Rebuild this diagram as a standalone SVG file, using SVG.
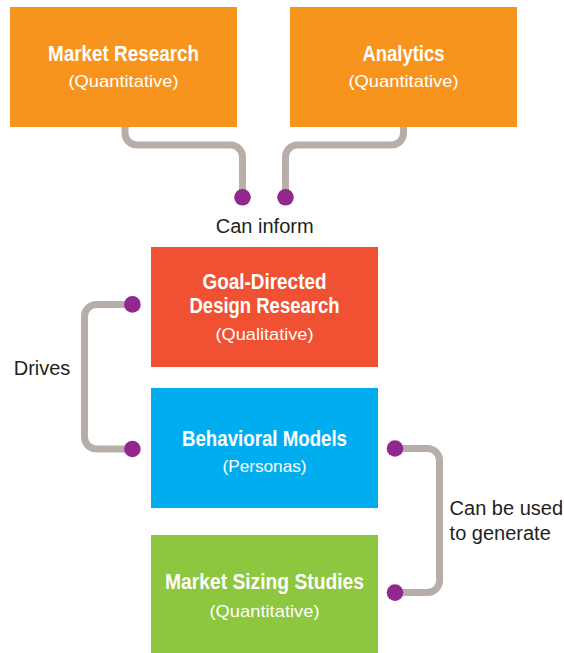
<svg xmlns="http://www.w3.org/2000/svg" width="564" height="653" viewBox="0 0 564 653">
<style>
.title{font-family:"Liberation Sans Narrow","Liberation Sans",Arial,sans-serif;font-weight:bold;font-size:22px;fill:#ffffff;text-anchor:middle}
.sub{font-family:"Liberation Sans",Arial,sans-serif;font-size:17px;fill:#ffffff;text-anchor:middle}
.lbl{font-family:"Liberation Sans",Arial,sans-serif;font-size:20px;fill:#231f20}
.conn{fill:none;stroke:#b7aea9;stroke-width:7}
.dot{fill:#92278f}
</style>
<rect width="564" height="653" fill="#ffffff"/>
<g id="connectors">
<path class="conn" d="M125,127 V133 A12,12 0 0 0 137,145 H230.5 A12,12 0 0 1 242.5,157 V197"/>
<path class="conn" d="M403.5,127 V133 A12,12 0 0 1 391.5,145 H297.5 A12,12 0 0 0 285.5,157 V197"/>
<path class="conn" d="M132,304.5 H96.5 A12,12 0 0 0 84.5,316.5 V437 A12,12 0 0 0 96.5,449 H132"/>
<path class="conn" d="M395,448.5 H427.5 A12,12 0 0 1 439.5,460.5 V580.5 A12,12 0 0 1 427.5,592.5 H395"/>
<circle class="dot" cx="242.5" cy="197.3" r="8.3"/>
<circle class="dot" cx="285.5" cy="197.3" r="8.3"/>
<circle class="dot" cx="132.4" cy="304.4" r="8.3"/>
<circle class="dot" cx="132.4" cy="449" r="8.3"/>
<circle class="dot" cx="395" cy="448.5" r="8.3"/>
<circle class="dot" cx="395" cy="592.6" r="8.3"/>
<text class="lbl" x="264.7" y="233" text-anchor="middle">Can inform</text>
<text class="lbl" x="13.7" y="375">Drives</text>
<text class="lbl" x="449.6" y="515">Can be used</text>
<text class="lbl" x="449.6" y="540">to generate</text>
</g>
<g id="market-research">
<rect x="10" y="7" width="227" height="120" fill="#f7941d"/>
<text class="title" x="123.5" y="61" textLength="151" lengthAdjust="spacingAndGlyphs">Market Research</text>
<text class="sub" x="123.5" y="87" textLength="110" lengthAdjust="spacingAndGlyphs">(Quantitative)</text>
</g>
<g id="analytics">
<rect x="290" y="7" width="227" height="120" fill="#f7941d"/>
<text class="title" x="403.5" y="61" textLength="82" lengthAdjust="spacingAndGlyphs">Analytics</text>
<text class="sub" x="403.5" y="87" textLength="110" lengthAdjust="spacingAndGlyphs">(Quantitative)</text>
</g>
<g id="goal-directed">
<rect x="151" y="247" width="227" height="120" fill="#f05133"/>
<text class="title" x="264.5" y="289" textLength="124" lengthAdjust="spacingAndGlyphs">Goal-Directed</text>
<text class="title" x="264.5" y="313.3" textLength="150" lengthAdjust="spacingAndGlyphs">Design Research</text>
<text class="sub" x="264.5" y="340" textLength="98" lengthAdjust="spacingAndGlyphs">(Qualitative)</text>
</g>
<g id="behavioral-models">
<rect x="151" y="388" width="227" height="120" fill="#00aeef"/>
<text class="title" x="264.5" y="445.5" textLength="165" lengthAdjust="spacingAndGlyphs">Behavioral Models</text>
<text class="sub" x="264.5" y="471.7" textLength="84" lengthAdjust="spacingAndGlyphs">(Personas)</text>
</g>
<g id="market-sizing">
<rect x="151" y="535" width="227" height="118" fill="#8dc63f"/>
<text class="title" x="264.5" y="589" textLength="199" lengthAdjust="spacingAndGlyphs">Market Sizing Studies</text>
<text class="sub" x="264.5" y="616.7" textLength="110" lengthAdjust="spacingAndGlyphs">(Quantitative)</text>
</g>
</svg>
